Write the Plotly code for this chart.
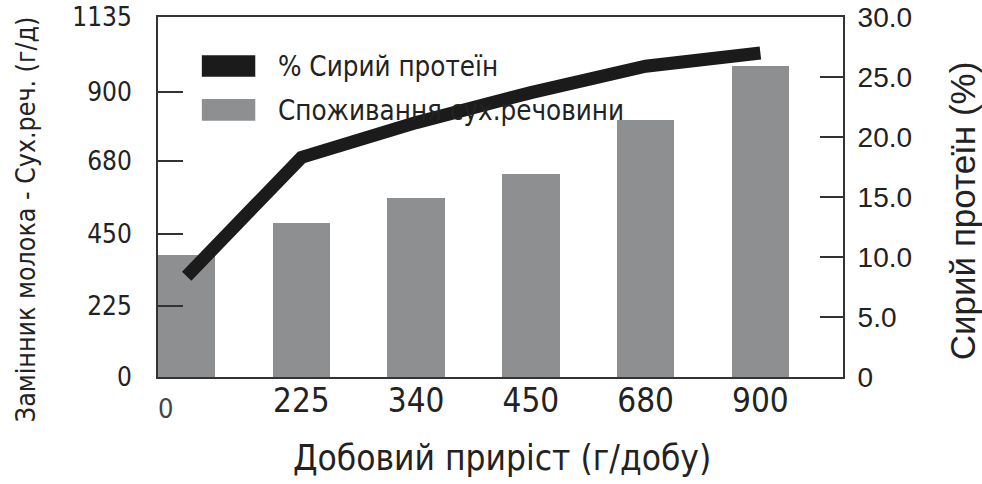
import plotly.graph_objects as go

# Daily gain categories (g/day)
categories = ["0", "225", "340", "450", "680", "900"]
# Dry matter intake of milk replacer (g/day), left axis
dm_intake = [385, 487, 564, 640, 810, 980]
# Crude protein (%), right axis
crude_protein = [8.4, 18.3, 21.2, 23.7, 25.9, 27.0]

left_ticks = [0, 225, 450, 680, 900, 1135]
right_ticks = [0, 5, 10, 15, 20, 25, 30]
right_tick_text = ["0", "5.0", "10.0", "15.0", "20.0", "25.0", "30.0"]

series_names = ["% Сирий протеїн", "Споживання сух.речовини"]

BAR_COLOR = "#8e8f91"
LINE_COLOR = "#1b1b1b"
AXIS_COLOR = "#333333"
TEXT_COLOR = "#222222"
MAIN_FONT = "DejaVu Sans Condensed, Liberation Sans, sans-serif"
RIGHT_FONT = "Liberation Sans, Arial, sans-serif"

idx = list(range(len(categories)))

fig = go.Figure()

fig.add_trace(go.Bar(
    x=idx, y=dm_intake, name=series_names[1],
    marker=dict(color=BAR_COLOR, line=dict(width=0)),
    width=0.5, yaxis="y", showlegend=False,
))

fig.add_trace(go.Scatter(
    x=idx, y=crude_protein, name=series_names[0],
    mode="lines", line=dict(color=LINE_COLOR, width=13),
    yaxis="y2", showlegend=False,
))

fig.update_layout(
    width=982, height=484,
    margin=dict(l=158, r=139, t=17, b=107, autoexpand=False),
    paper_bgcolor="white", plot_bgcolor="white",
    showlegend=False,
    bargap=0,
    xaxis=dict(
        range=[-0.25, 5.72], automargin=False,
        tickmode="array", tickvals=idx[1:], ticktext=categories[1:],
        ticks="", showgrid=False, zeroline=False,
        showline=True, linecolor=AXIS_COLOR, linewidth=2, mirror=True,
        tickfont=dict(family=MAIN_FONT, size=33, color=TEXT_COLOR),
        ticklabelstandoff=-7,
    ),
    yaxis=dict(
        range=[0, 1135], automargin=False,
        tickmode="array", tickvals=left_ticks,
        ticktext=[str(v) for v in left_ticks],
        ticks="inside", ticklen=25, tickwidth=2, tickcolor=AXIS_COLOR,
        showgrid=False, zeroline=False,
        showline=True, linecolor=AXIS_COLOR, linewidth=2,
        tickfont=dict(family=MAIN_FONT, size=26, color=TEXT_COLOR),
        ticklabelstandoff=19,
    ),
    yaxis2=dict(
        range=[0, 30], overlaying="y", side="right", automargin=False,
        tickmode="array", tickvals=right_ticks, ticktext=right_tick_text,
        ticks="inside", ticklen=23, tickwidth=2, tickcolor=AXIS_COLOR,
        showgrid=False, zeroline=False,
        showline=True, linecolor=AXIS_COLOR, linewidth=2,
        tickfont=dict(family=RIGHT_FONT, size=28, color=TEXT_COLOR),
        ticklabelstandoff=7,
    ),
)

# First category label sits apart from the others, slightly lower and lighter
fig.add_annotation(
    x=idx[0], xref="x", y=0, yref="paper",
    xanchor="center", yanchor="middle",
    text=categories[0], showarrow=False,
    xshift=-21, yshift=-31,
    font=dict(family=MAIN_FONT, size=27, color="#444444"),
)

# Axis titles
fig.add_annotation(
    x=0.502, y=-0.225, xref="paper", yref="paper",
    xanchor="center", yanchor="middle",
    text="Добовий приріст (г/добу)", showarrow=False,
    font=dict(family=MAIN_FONT, size=35, color=TEXT_COLOR),
)
fig.add_annotation(
    x=-0.194, y=0.436, xref="paper", yref="paper",
    xanchor="center", yanchor="middle",
    text="Замінник молока - Сух.реч. (г/д)", showarrow=False, textangle=-90,
    font=dict(family=MAIN_FONT, size=26.5, color=TEXT_COLOR),
)
fig.add_annotation(
    x=1.174, y=0.461, xref="paper", yref="paper",
    xanchor="center", yanchor="middle",
    text="Сирий протеїн (%)", showarrow=False, textangle=-90,
    font=dict(family=RIGHT_FONT, size=35, color=TEXT_COLOR),
)

# Legend: colour keys and labels
legend_rows = [(series_names[0], LINE_COLOR, 0.864), (series_names[1], BAR_COLOR, 0.742)]
for label, color, yc in legend_rows:
    fig.add_shape(
        type="rect", xref="paper", yref="paper", layer="below",
        x0=0.064, x1=0.142, y0=yc - 0.03, y1=yc + 0.03,
        fillcolor=color, line=dict(width=0),
    )
    fig.add_annotation(
        x=0.172, y=yc, xref="paper", yref="paper",
        xanchor="left", yanchor="middle",
        text=label, showarrow=False,
        font=dict(family=MAIN_FONT, size=27.5, color=TEXT_COLOR),
    )

fig.write_html("out.html")
